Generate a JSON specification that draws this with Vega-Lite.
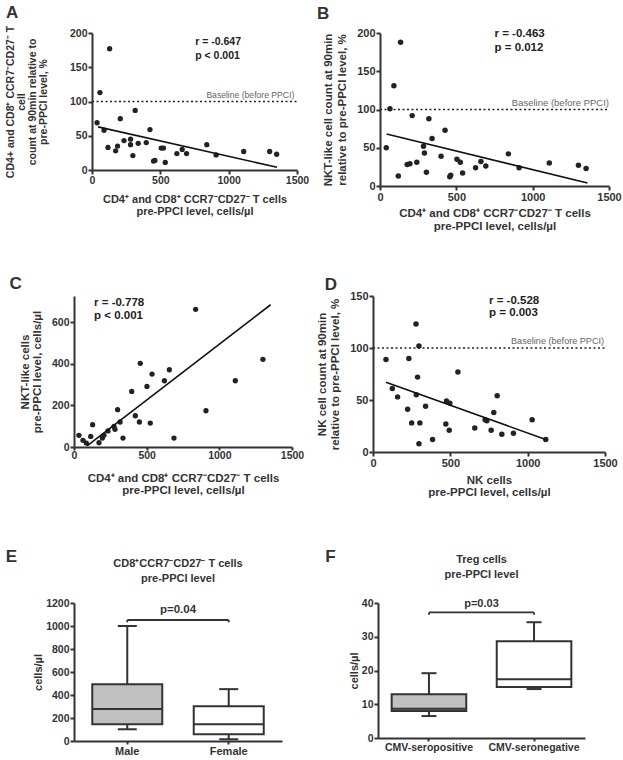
{
"$schema": "https://vega.github.io/schema/vega-lite/v6.json",
"padding": {"left": 5, "top": 4, "right": 0, "bottom": 2},
"background": "white",
"config": {
  "font": "Liberation Sans",
  "view": {"stroke": null},
  "axis": {"grid": false, "domainColor": "#333", "domainWidth": 2, "tickColor": "#333", "tickWidth": 2, "tickSize": 4, "labelColor": "#333", "labelFontWeight": "bold", "titleColor": "#333", "titleFontWeight": "bold", "labelFlush": false, "labelOverlap": false, "labelPadding": 1},
  "title": {"anchor": "start", "fontSize": 17, "fontWeight": "bold", "color": "#333"}
},
"concat": [
 {"concat": [
  {"concat": [
   {
    "title": {"text": "A", "frame": "group", "dx": -68, "offset": 3},
    "width": 223, "height": 137,
    "encoding": {
     "x": {"field": "x", "type": "quantitative", "scale": {"domain": [0, 1500], "nice": false, "range": [18, 223]}, "axis": {"values": [0, 500, 1000, 1500], "format": "d", "labelOverlap": false, "labelFontSize": 10.5, "titleFontSize": 11, "titleLineHeight": 12, "titlePadding": 8, "title": ["CD4⁺ and CD8⁺ CCR7⁻CD27⁻ T cells", "pre-PPCI level, cells/µl"]}},
     "y": {"field": "y", "type": "quantitative", "scale": {"domain": [0, 200], "nice": false}, "axis": {"values": [0, 50, 100, 150, 200], "format": "d", "labelOverlap": false, "offset": -18, "labelFontSize": 10.5, "titleFontSize": 10.5, "titleLineHeight": 11, "titlePadding": 21, "title": ["CD4+ and CD8⁺ CCR7⁻CD27⁻ T", "cell", "count at 90min relative to", "pre-PPCI level, %"]}}
    },
    "layer": [
     {"data": {"values": [{"x":129,"y":177},{"x":58,"y":113},{"x":37,"y":69},{"x":88,"y":58},{"x":117,"y":33},{"x":173,"y":28},{"x":187,"y":35},{"x":207,"y":75},{"x":234,"y":43},{"x":282,"y":45},{"x":282,"y":37},{"x":316,"y":87},{"x":299,"y":21},{"x":338,"y":39},{"x":397,"y":40},{"x":424,"y":59},{"x":450,"y":13},{"x":460,"y":14},{"x":506,"y":32},{"x":523,"y":32},{"x":536,"y":11},{"x":621,"y":24},{"x":660,"y":30},{"x":692,"y":24},{"x":840,"y":37},{"x":908,"y":22},{"x":1110,"y":27},{"x":1300,"y":27},{"x":1351,"y":23}]},
      "mark": {"type": "circle", "size": 28, "opacity": 1, "color": "#222"}},
     {"data": {"values": [{"x": 44, "y": 63}, {"x": 1354, "y": 4}]},
      "mark": {"type": "line", "color": "#111", "strokeWidth": 1.6}},
     {"data": {"values": [{"x": 0, "x2": 1500, "y": 100}]},
      "mark": {"type": "rule", "strokeDash": [2, 2.5], "strokeWidth": 1.6, "color": "#222"},
      "encoding": {"x2": {"field": "x2"}}},
     {"data": {"values": [{"x": 1480, "y": 100, "t": "Baseline (before PPCI)"}]},
      "mark": {"type": "text", "align": "right", "baseline": "bottom", "dy": -2, "fontSize": 8.6, "color": "#666"},
      "encoding": {"text": {"field": "t"}}},
     {"data": {"values": [{"x": 755, "y": 187, "t": "r = -0.647"}, {"x": 755, "y": 166, "t": "p < 0.001"}]},
      "mark": {"type": "text", "align": "left", "baseline": "middle", "fontSize": 10.5, "fontWeight": "bold", "color": "#222"},
      "encoding": {"text": {"field": "t"}}}
    ]
   },
   {
    "title": {"text": "B", "frame": "group", "dx": -63, "offset": 4},
    "width": 229, "height": 153,
    "encoding": {
     "x": {"field": "x", "type": "quantitative", "scale": {"domain": [0, 1500], "nice": false}, "axis": {"values": [0, 500, 1000, 1500], "format": "d", "labelOverlap": false, "labelFontSize": 11, "titleFontSize": 11.5, "titleLineHeight": 13, "titlePadding": 5, "title": ["CD4⁺ and CD8⁺ CCR7⁻CD27⁻ T cells", "pre-PPCI level, cells/µl"]}},
     "y": {"field": "y", "type": "quantitative", "scale": {"domain": [0, 200], "nice": false}, "axis": {"values": [0, 50, 100, 150, 200], "format": "d", "labelOverlap": false, "labelFontSize": 11, "titleFontSize": 11.5, "titleLineHeight": 14, "titlePadding": 9, "title": ["NKT-like cell count at 90min", "relative to pre-PPCI level, %"]}}
    },
    "layer": [
     {"data": {"values": [{"x":135,"y":188},{"x":91,"y":131},{"x":65,"y":101},{"x":41,"y":50},{"x":120,"y":13},{"x":211,"y":92},{"x":178,"y":28},{"x":196,"y":29},{"x":241,"y":31},{"x":285,"y":52},{"x":291,"y":43},{"x":320,"y":88},{"x":304,"y":18},{"x":341,"y":62},{"x":400,"y":39},{"x":426,"y":73},{"x":457,"y":12},{"x":463,"y":14},{"x":504,"y":35},{"x":526,"y":31},{"x":541,"y":17},{"x":626,"y":24},{"x":661,"y":32},{"x":693,"y":26},{"x":841,"y":42},{"x":911,"y":24},{"x":1109,"y":30},{"x":1300,"y":27},{"x":1350,"y":23}]},
      "mark": {"type": "circle", "size": 30, "opacity": 1, "color": "#222"}},
     {"data": {"values": [{"x": 43, "y": 68}, {"x": 1359, "y": 4}]},
      "mark": {"type": "line", "color": "#111", "strokeWidth": 1.6}},
     {"data": {"values": [{"x": 0, "x2": 1500, "y": 100}]},
      "mark": {"type": "rule", "strokeDash": [2, 2.5], "strokeWidth": 1.6, "color": "#222"},
      "encoding": {"x2": {"field": "x2"}}},
     {"data": {"values": [{"x": 1500, "y": 100, "t": "Baseline (before PPCI)"}]},
      "mark": {"type": "text", "align": "right", "baseline": "bottom", "dy": -2, "fontSize": 9.5, "color": "#666"},
      "encoding": {"text": {"field": "t"}}},
     {"data": {"values": [{"x": 750, "y": 199, "t": "r = -0.463"}, {"x": 750, "y": 180, "t": "p = 0.012"}]},
      "mark": {"type": "text", "align": "left", "baseline": "middle", "fontSize": 11.5, "fontWeight": "bold", "color": "#222"},
      "encoding": {"text": {"field": "t"}}}
    ]
   }
  ], "columns": 2, "align": "none", "spacing": 8},
  {"concat": [
   {
    "title": {"text": "C", "frame": "bounds", "dx": -10, "offset": 3},
    "vconcat": [
     {
      "width": 218, "height": 151,
      "encoding": {
       "x": {"field": "x", "type": "quantitative", "scale": {"domain": [0, 1500], "nice": false}, "axis": {"values": [0, 500, 1000, 1500], "format": "d", "labelOverlap": false, "labelFontSize": 10.5, "tickSize": 3, "labelPadding": 0, "titleFontSize": 11.5, "titleLineHeight": 12, "titlePadding": 12, "title": ["CD4⁺ and CD8⁺ CCR7⁻CD27⁻ T cells", "pre-PPCI level, cells/µl"]}},
       "y": {"field": "y", "type": "quantitative", "scale": {"domain": [0, 725], "nice": false}, "axis": {"values": [0, 200, 400, 600], "format": "d", "labelOverlap": false, "labelFontSize": 10.5, "titleFontSize": 11.5, "titleLineHeight": 12, "titlePadding": 9, "title": ["NKT-like cells", "pre-PPCI level, cells/µl"]}}
      },
      "layer": [
       {"data": {"values": [{"x":34,"y":56},{"x":62,"y":32},{"x":85,"y":19},{"x":115,"y":51},{"x":128,"y":107},{"x":172,"y":21},{"x":195,"y":43},{"x":206,"y":56},{"x":234,"y":77},{"x":275,"y":99},{"x":282,"y":85},{"x":300,"y":179},{"x":317,"y":120},{"x":337,"y":43},{"x":397,"y":267},{"x":422,"y":150},{"x":450,"y":120},{"x":456,"y":402},{"x":502,"y":291},{"x":525,"y":115},{"x":537,"y":350},{"x":622,"y":318},{"x":656,"y":371},{"x":688,"y":43},{"x":837,"y":661},{"x":908,"y":174},{"x":1110,"y":318},{"x":1300,"y":421}]},
        "mark": {"type": "circle", "size": 28, "opacity": 1, "color": "#222"}},
       {"data": {"values": [{"x": 90, "y": 5}, {"x": 1353, "y": 683}]},
        "mark": {"type": "line", "color": "#111", "strokeWidth": 1.6}},
       {"data": {"values": [{"x": 138, "y": 690, "t": "r = -0.778"}, {"x": 138, "y": 628, "t": "p < 0.001"}]},
        "mark": {"type": "text", "align": "left", "baseline": "middle", "fontSize": 11.5, "fontWeight": "bold", "color": "#222"},
        "encoding": {"text": {"field": "t"}}}
      ]
     }
    ]
   },
   {
    "title": {"text": "D", "frame": "bounds", "dx": 8, "offset": -4},
    "vconcat": [
     {
      "width": 232, "height": 156,
      "encoding": {
       "x": {"field": "x", "type": "quantitative", "scale": {"domain": [0, 1500], "nice": false}, "axis": {"values": [0, 500, 1000, 1500], "format": "d", "labelOverlap": false, "labelFontSize": 11, "titleFontSize": 11.5, "titleLineHeight": 12, "titlePadding": 6, "title": ["NK cells", "pre-PPCI level, cells/µl"]}},
       "y": {"field": "y", "type": "quantitative", "scale": {"domain": [0, 150], "nice": false}, "axis": {"values": [0, 50, 100, 150], "format": "d", "labelOverlap": false, "labelFontSize": 11, "titleFontSize": 11.5, "titleLineHeight": 13, "titlePadding": 9, "title": ["NK cell count at 90min", "relative to pre-PPCI level, %"]}}
      },
      "layer": [
       {"data": {"values": [{"x":84,"y":89},{"x":125,"y":61},{"x":159,"y":53},{"x":224,"y":41},{"x":232,"y":90},{"x":250,"y":28},{"x":278,"y":123},{"x":280,"y":55},{"x":288,"y":72},{"x":297,"y":102},{"x":303,"y":28},{"x":297,"y":8},{"x":340,"y":44},{"x":385,"y":12},{"x":471,"y":27},{"x":475,"y":49},{"x":497,"y":47},{"x":493,"y":21},{"x":549,"y":77},{"x":658,"y":23},{"x":725,"y":31},{"x":736,"y":30},{"x":764,"y":21},{"x":781,"y":38},{"x":803,"y":54},{"x":833,"y":17},{"x":908,"y":18},{"x":1029,"y":31},{"x":1117,"y":12}]},
        "mark": {"type": "circle", "size": 30, "opacity": 1, "color": "#222"}},
       {"data": {"values": [{"x": 84, "y": 67}, {"x": 1117, "y": 12}]},
        "mark": {"type": "line", "color": "#111", "strokeWidth": 1.6}},
       {"data": {"values": [{"x": 0, "x2": 1500, "y": 100}]},
        "mark": {"type": "rule", "strokeDash": [2, 2.5], "strokeWidth": 1.6, "color": "#222"},
        "encoding": {"x2": {"field": "x2"}}},
       {"data": {"values": [{"x": 1494, "y": 100, "t": "Baseline (before PPCI)"}]},
        "mark": {"type": "text", "align": "right", "baseline": "bottom", "dy": -2, "fontSize": 9.1, "color": "#666"},
        "encoding": {"text": {"field": "t"}}},
       {"data": {"values": [{"x": 750, "y": 145, "t": "r = -0.528"}, {"x": 750, "y": 134, "t": "p = 0.003"}]},
        "mark": {"type": "text", "align": "left", "baseline": "middle", "fontSize": 11.5, "fontWeight": "bold", "color": "#222"},
        "encoding": {"text": {"field": "t"}}}
      ]
     }
    ]
   }
  ], "columns": 2, "align": "none", "spacing": 12}
 ], "columns": 1, "align": "none", "spacing": 43},
 {"concat": [
  {
   "title": {"text": "E", "frame": "bounds", "dx": -27, "offset": -8},
   "vconcat": [
    {
     "title": {"text": ["CD8⁺CCR7⁻CD27⁻ T cells", "pre-PPCI level"], "anchor": "middle", "frame": "group", "fontSize": 11, "lineHeight": 15, "offset": 14},
     "width": 208, "height": 138,
     "layer": [
      {"data": {"values": [{"g": "Male", "lo": 102, "q1": 145, "med": 279, "q3": 494, "hi": 1000}, {"g": "Female", "lo": 15, "q1": 58, "med": 145, "q3": 302, "hi": 451}]},
       "encoding": {"x": {"field": "g", "type": "nominal", "scale": {"domain": ["Male", "Female"], "paddingInner": 0.31, "paddingOuter": 0.18}, "axis": {"title": null, "labelAngle": 0, "labelFontSize": 11, "tickSize": 3}}},
       "layer": [
        {"mark": {"type": "rule", "color": "#333", "strokeWidth": 2},
         "encoding": {"y": {"field": "lo", "type": "quantitative", "scale": {"domain": [0, 1200], "nice": false}, "axis": {"tickCount": 7, "format": "d", "labelOverlap": false, "labelFontSize": 10.5, "titleFontSize": 11, "titlePadding": 2, "title": "cells/µl"}}, "y2": {"field": "hi"}}},
        {"mark": {"type": "bar", "stroke": "#333", "strokeWidth": 2},
         "encoding": {"y": {"field": "q1", "type": "quantitative"}, "y2": {"field": "q3"}, "fill": {"field": "g", "type": "nominal", "scale": {"domain": ["Male", "Female"], "range": ["#c0c0c0", "#ffffff"]}, "legend": null}}},
        {"mark": {"type": "tick", "color": "#333", "thickness": 2, "opacity": 1},
         "encoding": {"y": {"field": "med", "type": "quantitative"}, "size": {"value": 70}}},
        {"mark": {"type": "tick", "color": "#333", "thickness": 2, "opacity": 1},
         "encoding": {"y": {"field": "hi", "type": "quantitative"}, "size": {"value": 19}}},
        {"mark": {"type": "tick", "color": "#333", "thickness": 2, "opacity": 1},
         "encoding": {"y": {"field": "lo", "type": "quantitative"}, "size": {"value": 19}}},
        {"data": {"values": [{"a": "Male", "b": "Female", "y": 1052}]},
         "mark": {"type": "rule", "color": "#333", "strokeWidth": 1.8},
         "encoding": {"x": {"field": "a", "type": "nominal"}, "x2": {"field": "b"}, "y": {"field": "y", "type": "quantitative"}}},
        {"data": {"values": [{"a": "Male", "y": 1052, "y2": 1032}, {"a": "Female", "y": 1052, "y2": 1032}]},
         "mark": {"type": "rule", "color": "#333", "strokeWidth": 1.8},
         "encoding": {"x": {"field": "a", "type": "nominal"}, "y": {"field": "y", "type": "quantitative"}, "y2": {"field": "y2"}}}
       ]},
      {"data": {"values": [{"px": 0.5, "y": 1135, "t": "p=0.04"}]},
       "mark": {"type": "text", "fontSize": 11.5, "fontWeight": "bold", "color": "#333", "baseline": "middle"},
       "encoding": {"x": {"field": "px", "type": "quantitative", "scale": {"domain": [0, 1]}, "axis": null}, "y": {"field": "y", "type": "quantitative"}, "text": {"field": "t"}}}
     ],
     "resolve": {"scale": {"x": "independent"}}
    }
   ]
  },
  {
   "title": {"text": "F", "frame": "bounds", "dx": -23, "offset": -12},
   "vconcat": [
    {
     "title": {"text": ["Treg cells", "pre-PPCI level"], "anchor": "middle", "frame": "group", "fontSize": 11, "lineHeight": 15, "offset": 18},
     "width": 207, "height": 135,
     "layer": [
      {"data": {"values": [{"g": "CMV-seropositive", "lo": 6.5, "q1": 8.0, "med": 8.7, "q3": 13.0, "hi": 19.2}, {"g": "CMV-seronegative", "lo": 14.5, "q1": 15.1, "med": 17.4, "q3": 28.7, "hi": 34.3}]},
       "encoding": {"x": {"field": "g", "type": "nominal", "scale": {"domain": ["CMV-seropositive", "CMV-seronegative"], "paddingInner": 0.29, "paddingOuter": 0.13}, "axis": {"title": null, "labelAngle": 0, "labelFontSize": 10.5, "tickSize": 3}}},
       "layer": [
        {"mark": {"type": "rule", "color": "#333", "strokeWidth": 2},
         "encoding": {"y": {"field": "lo", "type": "quantitative", "scale": {"domain": [0, 40], "nice": false}, "axis": {"tickCount": 5, "format": "d", "labelOverlap": false, "labelFontSize": 10.5, "titleFontSize": 11, "titlePadding": 2, "title": "cells/µl"}}, "y2": {"field": "hi"}}},
        {"mark": {"type": "bar", "stroke": "#333", "strokeWidth": 2},
         "encoding": {"y": {"field": "q1", "type": "quantitative"}, "y2": {"field": "q3"}, "fill": {"field": "g", "type": "nominal", "scale": {"domain": ["CMV-seropositive", "CMV-seronegative"], "range": ["#c0c0c0", "#ffffff"]}, "legend": null}}},
        {"mark": {"type": "tick", "color": "#333", "thickness": 2, "opacity": 1},
         "encoding": {"y": {"field": "med", "type": "quantitative"}, "size": {"value": 74}}},
        {"mark": {"type": "tick", "color": "#333", "thickness": 2, "opacity": 1},
         "encoding": {"y": {"field": "hi", "type": "quantitative"}, "size": {"value": 15}}},
        {"mark": {"type": "tick", "color": "#333", "thickness": 2, "opacity": 1},
         "encoding": {"y": {"field": "lo", "type": "quantitative"}, "size": {"value": 15}}},
        {"data": {"values": [{"a": "CMV-seropositive", "b": "CMV-seronegative", "y": 37.2}]},
         "mark": {"type": "rule", "color": "#333", "strokeWidth": 1.8},
         "encoding": {"x": {"field": "a", "type": "nominal"}, "x2": {"field": "b"}, "y": {"field": "y", "type": "quantitative"}}},
        {"data": {"values": [{"a": "CMV-seropositive", "y": 37.2, "y2": 36.5}, {"a": "CMV-seronegative", "y": 37.2, "y2": 36.5}]},
         "mark": {"type": "rule", "color": "#333", "strokeWidth": 1.8},
         "encoding": {"x": {"field": "a", "type": "nominal"}, "y": {"field": "y", "type": "quantitative"}, "y2": {"field": "y2"}}}
       ]},
      {"data": {"values": [{"px": 0.5, "y": 39.8, "t": "p=0.03"}]},
       "mark": {"type": "text", "fontSize": 11, "fontWeight": "bold", "color": "#333", "baseline": "middle"},
       "encoding": {"x": {"field": "px", "type": "quantitative", "scale": {"domain": [0, 1]}, "axis": null}, "y": {"field": "y", "type": "quantitative"}, "text": {"field": "t"}}}
     ],
     "resolve": {"scale": {"x": "independent"}}
    }
   ]
  }
 ], "columns": 2, "align": "none", "spacing": 43}
],
"columns": 1, "align": "none", "spacing": 49
}
